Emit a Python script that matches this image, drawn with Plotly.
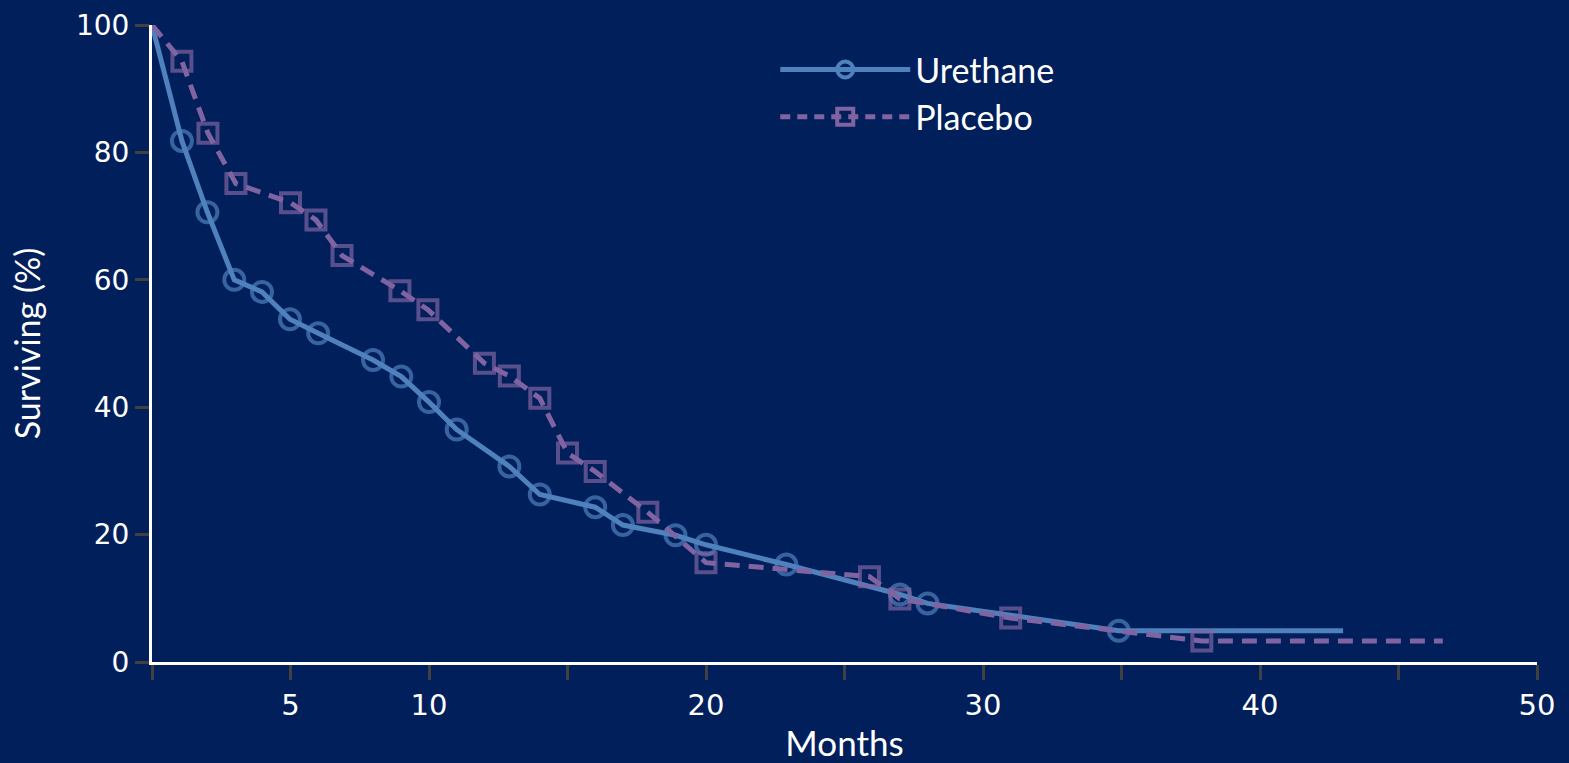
import plotly.graph_objects as go

# Data
urethane_months = [0, 1.08, 2.0, 2.97, 3.97, 4.98, 6.0, 7.98, 9.0, 10.0, 11.0, 12.9, 14.0, 16.0, 17.0, 18.9, 20.0, 22.9, 27.0, 28.0, 34.9, 43.0]
urethane_surv = [100, 81.8, 70.6, 60.0, 58.1, 53.8, 51.6, 47.4, 44.8, 40.8, 36.5, 30.7, 26.3, 24.3, 21.5, 19.9, 18.4, 15.3, 10.6, 9.2, 4.9, 4.9]

placebo_months = [0, 1.08, 2.02, 3.03, 5.0, 5.92, 6.86, 8.95, 9.96, 12.0, 12.9, 14.0, 15.0, 16.0, 17.9, 20.0, 25.9, 27.0, 31.0, 37.9, 46.6]
placebo_surv = [100, 94.3, 83.0, 75.1, 72.1, 69.4, 63.8, 58.3, 55.3, 46.9, 44.9, 41.4, 32.8, 29.9, 23.5, 15.6, 13.4, 9.9, 6.9, 3.3, 3.3]

x_tickvals = [0, 5, 10, 15, 20, 25, 30, 35, 40, 45, 50]
x_ticktext = ["", "5", "10", "", "20", "", "30", "", "40", "", "50"]
y_tickvals = [0, 20, 40, 60, 80, 100]

BG = "#001f5b"
BLUE = "#4f81bd"
PURPLE = "#8064a2"
MS = 20

def sizes(n, s):
    return [0] + [s] * (n - 2) + [0]

fig = go.Figure()
fig.add_trace(go.Scatter(
    x=urethane_months, y=urethane_surv, mode="lines+markers", name="Urethane",
    showlegend=False,
    line=dict(color=BLUE, width=5),
    marker=dict(symbol="circle-open", size=sizes(len(urethane_months), MS),
                color=BLUE, line=dict(width=4, color=BLUE)),
))
fig.add_trace(go.Scatter(
    x=placebo_months, y=placebo_surv, mode="lines+markers", name="Placebo",
    showlegend=False,
    line=dict(color=PURPLE, width=5, dash="15px,9px"),
    marker=dict(symbol="square-open", size=sizes(len(placebo_months), MS - 1),
                color=PURPLE, line=dict(width=4, color=PURPLE)),
))
# legend entries
fig.add_trace(go.Scatter(
    x=[None], y=[None], mode="lines+markers", name="Urethane",
    line=dict(color=BLUE, width=5),
    marker=dict(symbol="circle-open", size=MS, color=BLUE, line=dict(width=4, color=BLUE)),
))
fig.add_trace(go.Scatter(
    x=[None], y=[None], mode="lines+markers", name="Placebo",
    line=dict(color=PURPLE, width=5, dash="10px,7px"),
    marker=dict(symbol="square-open", size=MS - 1, color=PURPLE, line=dict(width=4, color=PURPLE)),
))

fig.update_layout(
    width=1569, height=763,
    paper_bgcolor=BG, plot_bgcolor=BG,
    margin=dict(l=152, r=32, t=25, b=101, autoexpand=False),
    font=dict(family="Lato, 'Open Sans', sans-serif", color="white"),
    legend=dict(x=0.45, y=0.975, xanchor="left", yanchor="top",
                bgcolor="rgba(0,0,0,0)", font=dict(size=34, color="white"),
                itemwidth=130, tracegroupgap=0),
    xaxis=dict(
        range=[0, 50], tickmode="array", tickvals=x_tickvals, ticktext=x_ticktext,
        showgrid=False, zeroline=False, showline=True, linecolor="white", linewidth=3,
        ticks="outside", ticklen=15, tickwidth=3, tickcolor="#404040", automargin=False,
        tickfont=dict(family="DejaVu Sans", size=29, color="white"),
        title=dict(text="Months", font=dict(family="Lato", size=35, color="white"), standoff=16),
    ),
    yaxis=dict(
        range=[0, 100], tickmode="array", tickvals=y_tickvals,
        showgrid=False, zeroline=False, showline=True, linecolor="white", linewidth=3,
        ticks="outside", ticklen=14, tickwidth=3, tickcolor="#404040", automargin=False,
        tickfont=dict(family="DejaVu Sans", size=28, color="white"),
        title=dict(text="Surviving (%)", font=dict(family="Lato", size=34, color="white"), standoff=26),
    ),
)

fig.write_html("out.html", config={"displayModeBar": False})

# remove default page margin so the figure fills the window exactly
with open("out.html", "r", encoding="utf-8") as f:
    html = f.read()
html = html.replace("<head>", "<head><style>html,body{margin:0;padding:0;background:#001f5b;overflow:hidden}</style>", 1)
with open("out.html", "w", encoding="utf-8") as f:
    f.write(html)
